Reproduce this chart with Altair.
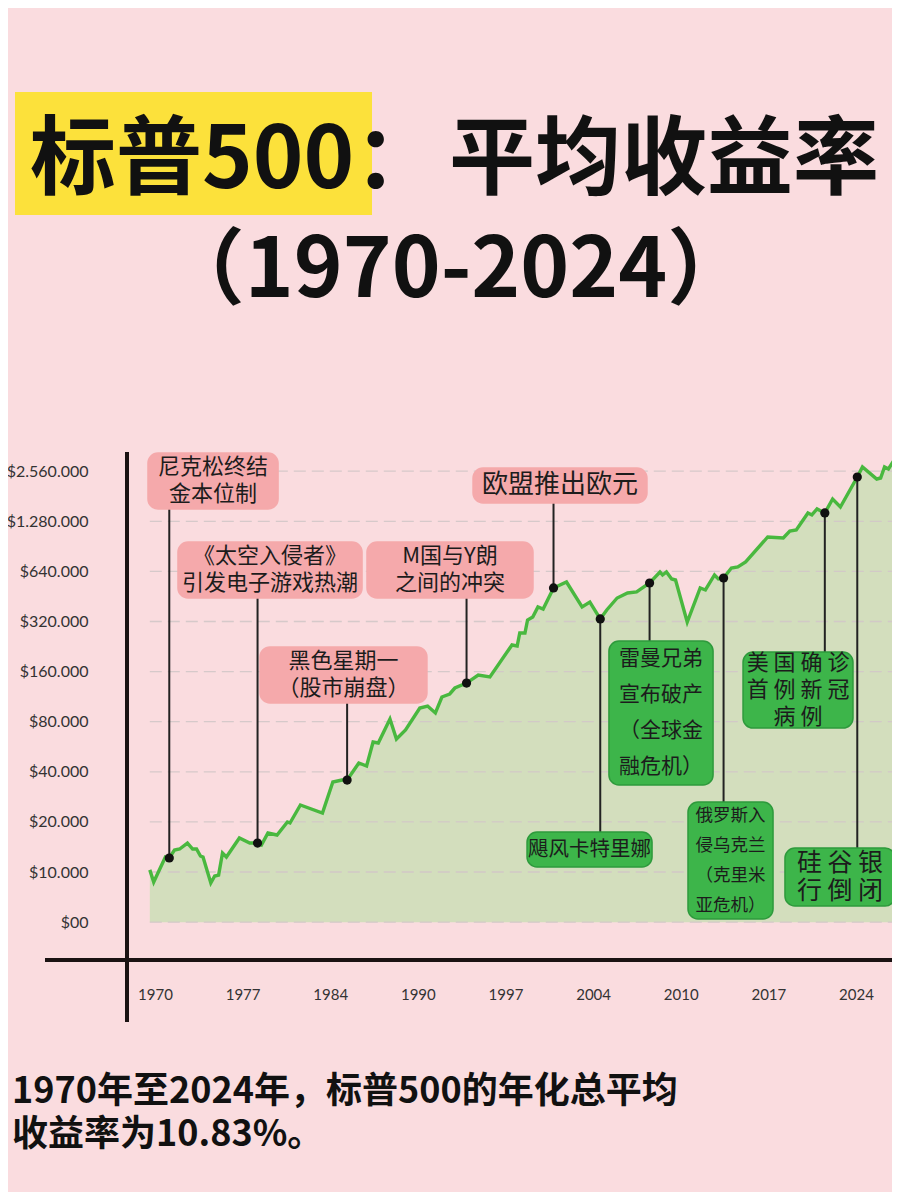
import json
import math
import altair as alt
import pandas as pd

# ------------------------------------------------------------------ data
years = [1969.6, 1969.9, 1970.8, 1971.1, 1971.5, 1971.9, 1972.5, 1972.9, 1973.2, 1973.5,
         1973.7, 1974.3, 1974.6, 1974.9, 1975.2, 1975.5, 1976.5, 1977.3, 1977.9, 1978.2,
         1978.7, 1979.4, 1980.2, 1980.4, 1981.2, 1982.9, 1983.7, 1984.4, 1984.8, 1985.7,
         1986.3, 1986.8, 1987.2, 1988.1, 1988.6, 1989.3, 1990.4, 1991.0, 1991.6, 1992.1,
         1992.7, 1993.1, 1994.0, 1994.9, 1995.8, 1997.5, 1997.9, 1998.1, 1998.5, 1998.7,
         1999.1, 1999.5, 1999.9, 2000.7, 2001.7, 2002.9, 2003.5, 2004.3, 2004.8, 2005.6,
         2006.4, 2007.1, 2008.1, 2008.9, 2009.1, 2009.4, 2009.8, 2010.1, 2011.0, 2012.0,
         2012.4, 2013.1, 2013.4, 2013.8, 2014.4, 2014.9, 2015.5, 2017.2, 2018.4, 2018.9,
         2019.4, 2020.3, 2020.6, 2021.0, 2021.6, 2022.2, 2022.8, 2024.1, 2024.5, 2025.6,
         2025.9, 2026.2, 2026.5, 2026.9]
values = [10300, 8710, 12300, 12140, 13560, 13750, 14930, 13750, 13750, 12480,
          12300, 8590, 9460, 9590, 13000, 12300, 16010, 14930, 14930, 14530,
          17150, 16690, 19970, 19700, 25270, 22620, 34730, 35700, 35700, 45180,
          43350, 60400, 59590, 83060, 62980, 71300, 96700, 99400, 90250, 112600,
          117400, 127500, 136600, 152600, 148500, 231200, 228000, 272800, 272800, 326800,
          340600, 391100, 380400, 508800, 552600, 391100, 419100, 331400, 375200, 442900,
          474800, 481400, 545000, 634700, 609000, 634700, 576100, 568200, 317800, 508800,
          494900, 609000, 576100, 584100, 670900, 680300, 729100, 1030000, 1016000, 1119000,
          1135000, 1436000, 1397000, 1518000, 1436000, 1743000, 1560000, 2362000, 2714000, 2297000,
          2329000, 2714000, 2639000, 2949000]

y_tick_values = [5000, 10000, 20000, 40000, 80000, 160000, 320000, 640000, 1280000, 2560000]
y_tick_labels = ["$00", "$10.000", "$20.000", "$40.000", "$80.000", "$160.000",
                 "$320.000", "$640.000", "$1.280.000", "$2.560.000"]
x_tick_values = [1970, 1976.75, 1983.5, 1990.25, 1997, 2003.75, 2010.5, 2017.25, 2024]
x_tick_labels = ["1970", "1977", "1984", "1990", "1997", "2004", "2010", "2017", "2024"]

event_text = ["尼克松终结\n金本位制",
              "《太空入侵者》\n引发电子游戏热潮",
              "黑色星期一\n（股市崩盘）",
              "M国与Y朗\n之间的冲突",
              "欧盟推出欧元",
              "飓风卡特里娜",
              "雷曼兄弟\n宣布破产\n（全球金\n融危机）",
              "俄罗斯入\n侵乌克兰\n（克里米\n亚危机）",
              "美 国 确 诊\n首 例 新 冠\n病 例",
              "硅 谷 银\n行 倒 闭"]
event_year = [1971.1, 1977.9, 1984.8, 1994.0, 2000.7, 2004.3, 2008.1, 2013.8, 2021.6, 2024.1]
event_value = [12140, 14930, 35700, 136600, 508800, 331400, 545000, 584100, 1436000, 2362000]
event_kind = ["pink", "pink", "pink", "pink", "pink", "green", "green", "green", "green", "green"]

# annotation boxes, in data units (year range, value range)
box_x0 = [1969.46, 1971.77, 1978.09, 1986.33, 1994.50, 1998.66, 2004.97, 2011.06, 2015.30, 2018.53]
box_x1 = [1979.48, 1985.95, 1990.95, 1999.12, 2007.90, 2008.29, 2012.99, 2017.61, 2023.77, 2027.01]
box_lo = [1518000, 443000, 103700, 443000, 1649000, 10720, 33330, 5220, 73300, 6250]
box_hi = [3292000, 961000, 225000, 961000, 2676000, 17390, 244000, 26340, 209800, 13940]

title_left = "标普500："
title_right = "平均收益率"
title_line2 = "（1970-2024）"
note_line1 = "1970年至2024年，标普500的年化总平均"
note_line2 = "收益率为10.83%。"

# ------------------------------------------------------------------ styles
event_font_size = [22, 22, 22, 22, 26, 20.5, 21, 17.5, 22, 25]
event_line_height = [27, 27, 27, 27, 27, 27, 36, 30, 27, 28]

W, H = 764, 508
BG = "#FADCDF"
CJK = "Noto Sans CJK SC"

x_scale = alt.Scale(domain=[1967.92, 2026.775], nice=False, zero=False)
y_scale = alt.Scale(type="log", base=2, domain=[2961, 3338000], nice=False)

x_label_expr = f"{json.dumps(x_tick_labels)}[indexof({json.dumps(x_tick_values)}, datum.value)]"
y_label_expr = f"{json.dumps(y_tick_labels)}[indexof({json.dumps(y_tick_values)}, datum.value)]"

x_axis = alt.Axis(values=x_tick_values, labelExpr=x_label_expr, domain=False, ticks=False,
                  grid=False, title=None, labelFont="Lato", labelFontSize=15,
                  labelColor="#333333", labelPadding=27, labelFlush=False)
y_axis = alt.Axis(values=y_tick_values, labelExpr=y_label_expr, domain=False, ticks=False,
                  grid=False, title=None, labelFont="Lato", labelFontSize=16,
                  labelColor="#333333", labelPadding=40)


def X(field):
    return alt.X(field, scale=x_scale, axis=x_axis)


def Y(field):
    return alt.Y(field, scale=y_scale, axis=y_axis)


series = pd.DataFrame({"year": years, "value": values})

events = pd.DataFrame({
    "year": event_year, "value": event_value, "text": event_text, "kind": event_kind,
    "x0": box_x0, "x1": box_x1, "lo": box_lo, "hi": box_hi,
    "fs": event_font_size, "lh": event_line_height,
})
events["xc"] = (events["x0"] + events["x1"]) / 2
events["yc"] = [math.sqrt(a * b) for a, b in zip(events["lo"], events["hi"])]
events["attach"] = [lo if lo > v else hi for lo, hi, v in zip(events["lo"], events["hi"], events["value"])]
events["n"] = [t.count("\n") + 1 for t in event_text]

one = pd.DataFrame({"a": [0]})


def text_at(txt, x, y, size, align="left", weight="bold", color="#111111", font=CJK):
    return alt.Chart(pd.DataFrame({"t": [txt]})).mark_text(
        align=align, baseline="alphabetic", fontSize=size, fontWeight=weight,
        font=font, color=color,
    ).encode(x=alt.value(x), y=alt.value(y), text="t:N")


highlight = alt.Chart(one).mark_rect(color="#FCE13B").encode(
    x=alt.value(-113), x2=alt.value(244), y=alt.value(-360), y2=alt.value(-237))

t1 = text_at(title_left, -98, -264, 86)
t2 = text_at(title_right, 751, -264, 86, align="right")
t3 = text_at(title_line2, 328, -155, 83, align="center")
n1 = text_at(note_line1, -116, 651, 36, weight="bold")
n2 = text_at(note_line2, -116, 694, 36, weight="bold")

area = alt.Chart(series).mark_area(color="#D3DEBD", opacity=1).encode(
    x=X("year:Q"), y=Y("value:Q"), y2=alt.Y2(datum=5000),
)

grid = alt.Chart(pd.DataFrame({"v": y_tick_values})).mark_rule(
    color="#D2C6C8", strokeDash=[12, 6], strokeWidth=1.3, opacity=0.9
).encode(
    x=alt.X(datum=years[0], scale=x_scale, axis=x_axis),
    x2=alt.X2(datum=years[-1]),
    y=Y("v:Q"),
)

line = alt.Chart(series).mark_line(color="#49B83F", strokeWidth=3.4).encode(
    x=X("year:Q"), y=Y("value:Q"),
)

connectors = alt.Chart(events).mark_rule(color="#222222", strokeWidth=2).encode(
    x=X("year:Q"), y=Y("value:Q"), y2="attach:Q",
)

boxes = alt.Chart(events).mark_rect(cornerRadius=10, strokeWidth=1.5).encode(
    x=X("x0:Q"), x2="x1:Q", y=Y("lo:Q"), y2="hi:Q",
    fill=alt.Fill("kind:N", scale=alt.Scale(domain=["pink", "green"], range=["#F5A9AB", "#3DB54A"]), legend=None),
    stroke=alt.Stroke("kind:N", scale=alt.Scale(domain=["pink", "green"], range=["#F5A9AB", "#2E9A3C"]), legend=None),
)

points = alt.Chart(events).mark_circle(size=85, color="#111111", opacity=1).encode(
    x=X("year:Q"), y=Y("value:Q"),
)

label_layers = []
groups = sorted(set(zip(event_line_height, events["n"])))
for lh, n in groups:
    label_layers.append(
        alt.Chart(events).transform_filter(f"datum.lh == {lh} && datum.n == {n}").mark_text(
            lineBreak="\n", lineHeight=lh, align="center", baseline="middle",
            dy=-(n - 1) * lh / 2, font=CJK, color="#1C1C1C",
        ).encode(
            x=X("xc:Q"), y=Y("yc:Q"), text="text:N",
            size=alt.Size("fs:Q", scale=None, legend=None),
        )
    )

h_axis = alt.Chart(one).mark_rule(color="#1A1212", strokeWidth=4).encode(
    x=alt.value(-83), x2=alt.value(W + 10), y=alt.value(H))
v_axis = alt.Chart(one).mark_rule(color="#1A1212", strokeWidth=4).encode(
    x=alt.value(-1), y=alt.value(0), y2=alt.value(H + 62))

chart = alt.layer(
    highlight, t1, t2, t3,
    area, grid, line, connectors, boxes, points, *label_layers,
    h_axis, v_axis, n1, n2,
).properties(
    width=W, height=H,
    padding={"left": 120, "top": 444, "right": 0, "bottom": 232},
    autosize=alt.AutoSizeParams(type="none"),
).configure(background=BG).configure_view(stroke=None)

chart.save("out.html", embed_options={"renderer": "svg", "actions": False})
